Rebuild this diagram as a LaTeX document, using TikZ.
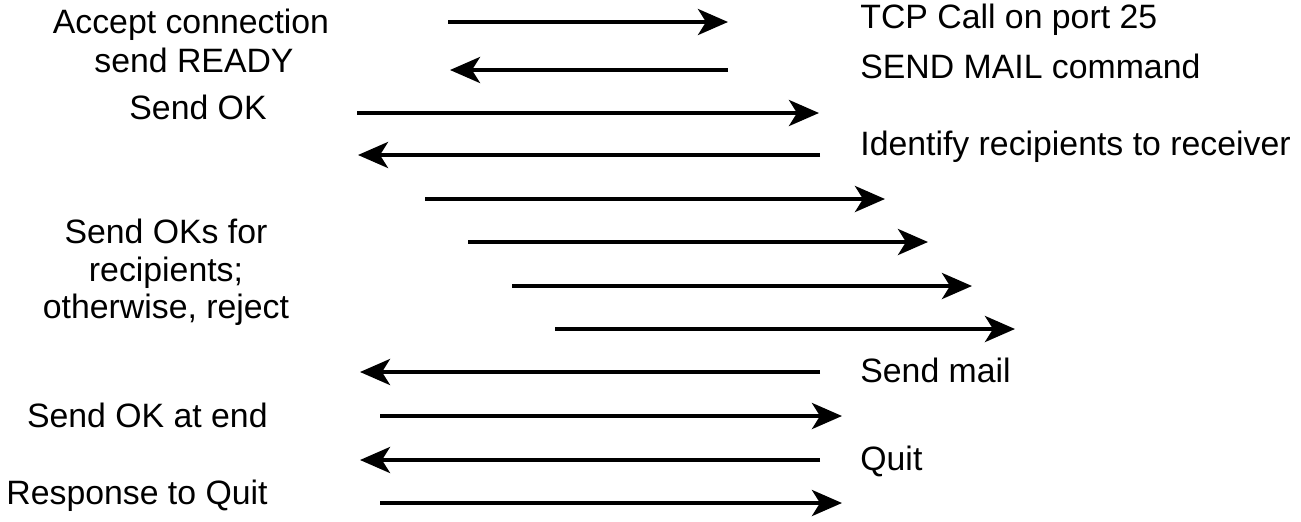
\documentclass[tikz,border=0pt]{standalone}
\usepackage{fontspec}
\setmainfont{Liberation Sans}
\usetikzlibrary{arrows.meta}

\begin{document}
\begin{tikzpicture}[x=0.5pt,y=-0.5pt]
				\tikzstyle{msg}=[line width=2pt,-{Stealth[length=15pt,width=13pt,inset=4pt]}]
				\tikzstyle{every node}=[inner sep=0pt,font=\fontsize{16.9}{18.75}\selectfont]
				\tikzstyle{rcv}=[anchor=base west]
				\useasboundingbox (0,0) rectangle (1301,521);

				\node[anchor=base] (accept) at (191,33) {Accept connection};
				\node[anchor=base] (ready) at (194,72) {send READY};
				\node[anchor=base] (ok) at (198,119) {Send OK};
				\node[anchor=north,align=center] (oks) at (166,219) {Send OKs for\\recipients;\\otherwise, reject};
				\node[anchor=base east] (okend) at (268,427) {Send OK at end};
				\node[anchor=base east] (resp) at (268,504) {Response to Quit};

				\node[rcv] (tcp) at (860,28) {TCP Call on port 25};
				\node[rcv] (sendmail) at (860,78) {SEND MAIL command};
				\node[rcv] (ident) at (860,155) {Identify recipients to receiver};
				\node[rcv] (mail) at (860,382) {Send mail};
				\node[rcv] (quit) at (860,470) {Quit};

				\foreach \n/\y/\a/\b in {1/22/448/728, 2/70/728/450, 3/113/357/819, 4/155/820/358,
					5/199/425/885, 6/242/468/928, 7/286/512/972, 8/329/555/1015,
					9/372/820/360, 10/416/380/842, 11/460/820/360, 12/503/380/842}
				{
					\coordinate (s\n) at (\a,\y);
					\coordinate (e\n) at (\b,\y);
					\draw[msg] (s\n) -- (e\n);
				}
\end{tikzpicture}
\end{document}
